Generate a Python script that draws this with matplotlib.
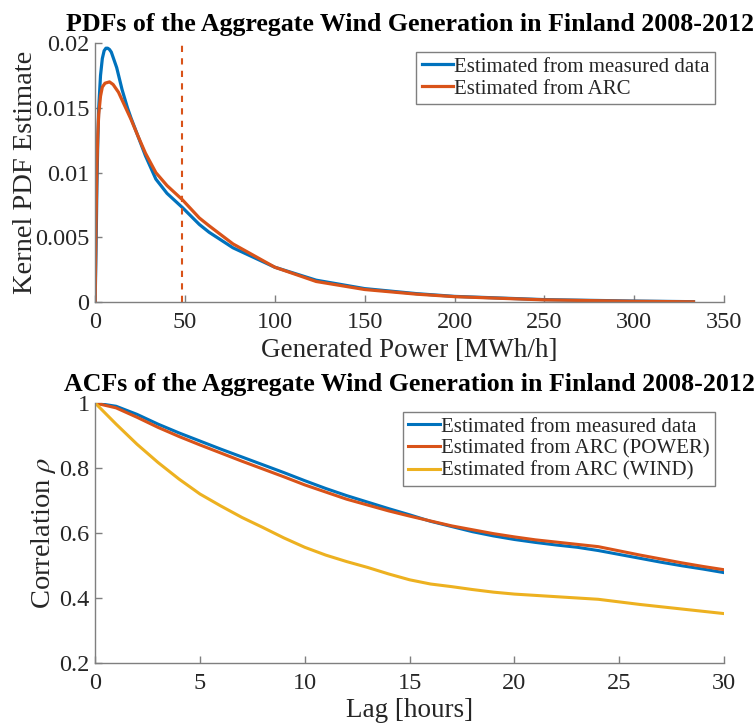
import matplotlib
matplotlib.use("Agg")
import matplotlib.pyplot as plt
import numpy as np

plt.rcParams['font.family'] = ['Liberation Serif', 'DejaVu Serif']
plt.rcParams['mathtext.fontset'] = 'stix'

# ---- PDF data ----
pdf_x_measured = [0, 0.5, 1, 1.5, 2, 3, 4, 5, 6, 7, 8, 9, 10, 12, 15, 18, 20, 23.6, 28, 33.8,
                  40, 48.6, 58, 63.4, 76.7, 100, 123, 150, 179, 200, 250, 300, 333]
pdf_y_measured = [0, 0.004, 0.009, 0.0125, 0.015, 0.0175, 0.0188, 0.0194, 0.0196, 0.0196, 0.0195,
                  0.0193, 0.0189, 0.0181, 0.0164, 0.0150, 0.0142, 0.0129, 0.0113, 0.0095,
                  0.0084, 0.0073, 0.0060, 0.0054, 0.0042, 0.0027, 0.0017, 0.00105, 0.00066,
                  0.00045, 0.0002, 0.00009, 0.00004]
pdf_x_arc = [0, 0.5, 1, 1.5, 2, 3, 4, 5.5, 8, 10, 13, 16, 20, 23.6, 28, 33.8, 40, 48.6, 58,
             63.4, 76.7, 100, 123, 150, 179, 200, 250, 300, 333]
pdf_y_arc = [0, 0.006, 0.0105, 0.013, 0.0145, 0.0159, 0.0166, 0.0169, 0.0170, 0.0168, 0.0162,
             0.0153, 0.0141, 0.0129, 0.0115, 0.0100, 0.0090, 0.0079, 0.0065, 0.0059, 0.0045,
             0.0027, 0.0016, 0.00098, 0.00062, 0.00043, 0.00018, 0.00007, 0.00003]
mean_power = 48.6

# ---- ACF data ----
lags = list(range(31))
acf_measured = [1.0, 0.99, 0.965, 0.935, 0.908, 0.883, 0.858, 0.834, 0.81, 0.786, 0.761, 0.737,
                0.715, 0.695, 0.675, 0.656, 0.636, 0.62, 0.604, 0.591, 0.58, 0.571, 0.563, 0.556,
                0.546, 0.534, 0.522, 0.51, 0.499, 0.489, 0.478]
acf_arc_power = [1.0, 0.985, 0.956, 0.925, 0.897, 0.871, 0.846, 0.821, 0.797, 0.773, 0.748, 0.726,
                 0.704, 0.686, 0.668, 0.652, 0.637, 0.622, 0.61, 0.598, 0.588, 0.579, 0.572, 0.565,
                 0.558, 0.545, 0.532, 0.52, 0.508, 0.497, 0.487]
acf_arc_wind = [1.0, 0.935, 0.873, 0.817, 0.766, 0.72, 0.683, 0.648, 0.617, 0.585, 0.556, 0.532,
                0.512, 0.494, 0.474, 0.456, 0.443, 0.435, 0.426, 0.418, 0.412, 0.408, 0.404, 0.4,
                0.396, 0.388, 0.38, 0.373, 0.366, 0.359, 0.352]

C1, C2, C3 = '#0072BD', '#D95319', '#EDB120'
AXC = '#7f7f7f'
TXC = '#262626'

fig = plt.figure(figsize=(7.55, 7.23), dpi=100)
ax1 = fig.add_axes([0.126, 0.582, 0.833, 0.3585])
ax2 = fig.add_axes([0.126, 0.083, 0.833, 0.3596])

def style(ax):
    for s in ['top', 'right']:
        ax.spines[s].set_visible(False)
    for s in ['left', 'bottom']:
        ax.spines[s].set_color(AXC)
        ax.spines[s].set_linewidth(1.0)
    ax.tick_params(direction='in', length=5, width=1, color=AXC, labelcolor=TXC,
                   labelsize=17.5)
    ax.tick_params(axis='x', pad=7)
    ax.tick_params(axis='y', pad=4)

def legend(ax):
    leg = ax.legend(loc='upper right', bbox_to_anchor=(0.985, 0.966), fontsize=15,
                    handlelength=1.5, handletextpad=0.05, borderpad=0.25, labelspacing=0.12,
                    borderaxespad=0, fancybox=False, framealpha=1)
    leg.get_frame().set_edgecolor(AXC)
    leg.get_frame().set_linewidth(1.0)
    for t in leg.get_texts():
        t.set_color(TXC)

ax1.plot(pdf_x_measured, pdf_y_measured, color=C1, lw=2.3, label='Estimated from measured data')
ax1.plot(pdf_x_arc, pdf_y_arc, color=C2, lw=2.3, label='Estimated from ARC')
ax1.axvline(mean_power, color=C2, lw=1.5, ls=(0, (3, 3)))
ax1.set_xlim(0, 350)
ax1.set_ylim(0, 0.02)
ax1.set_xticks([0, 50, 100, 150, 200, 250, 300, 350])
ax1.set_yticks([0, 0.005, 0.01, 0.015, 0.02])
ax1.set_yticklabels(['0', '0.005', '0.01', '0.015', '0.02'])
style(ax1)
ax1.set_xlabel('Generated Power [MWh/h]', fontsize=19.5, color=TXC, labelpad=4)
ax1.set_ylabel('Kernel PDF Estimate', fontsize=20.5, color=TXC, labelpad=-2)
ax1.set_title('PDFs of the Aggregate Wind Generation in Finland 2008-2012',
              fontsize=18.6, fontweight='bold', color='black', pad=9)
legend(ax1)

ax2.plot(lags, acf_measured, color=C1, lw=2.2, label='Estimated from measured data')
ax2.plot(lags, acf_arc_power, color=C2, lw=2.2, label='Estimated from ARC (POWER)')
ax2.plot(lags, acf_arc_wind, color=C3, lw=2.2, label='Estimated from ARC (WIND)')
ax2.set_xlim(0, 30)
ax2.set_ylim(0.2, 1)
ax2.set_xticks([0, 5, 10, 15, 20, 25, 30])
ax2.set_yticks([0.2, 0.4, 0.6, 0.8, 1.0])
ax2.set_yticklabels(['0.2', '0.4', '0.6', '0.8', '1'])
style(ax2)
ax2.set_xlabel('Lag [hours]', fontsize=19.5, color=TXC, labelpad=3)
ax2.set_ylabel(r'Correlation $\rho$', fontsize=20.5, color=TXC, labelpad=1)
ax2.set_title('ACFs of the Aggregate Wind Generation in Finland 2008-2012',
              fontsize=18.6, fontweight='bold', color='black', pad=9)
legend(ax2)

fig.savefig('out.png', dpi=100)
